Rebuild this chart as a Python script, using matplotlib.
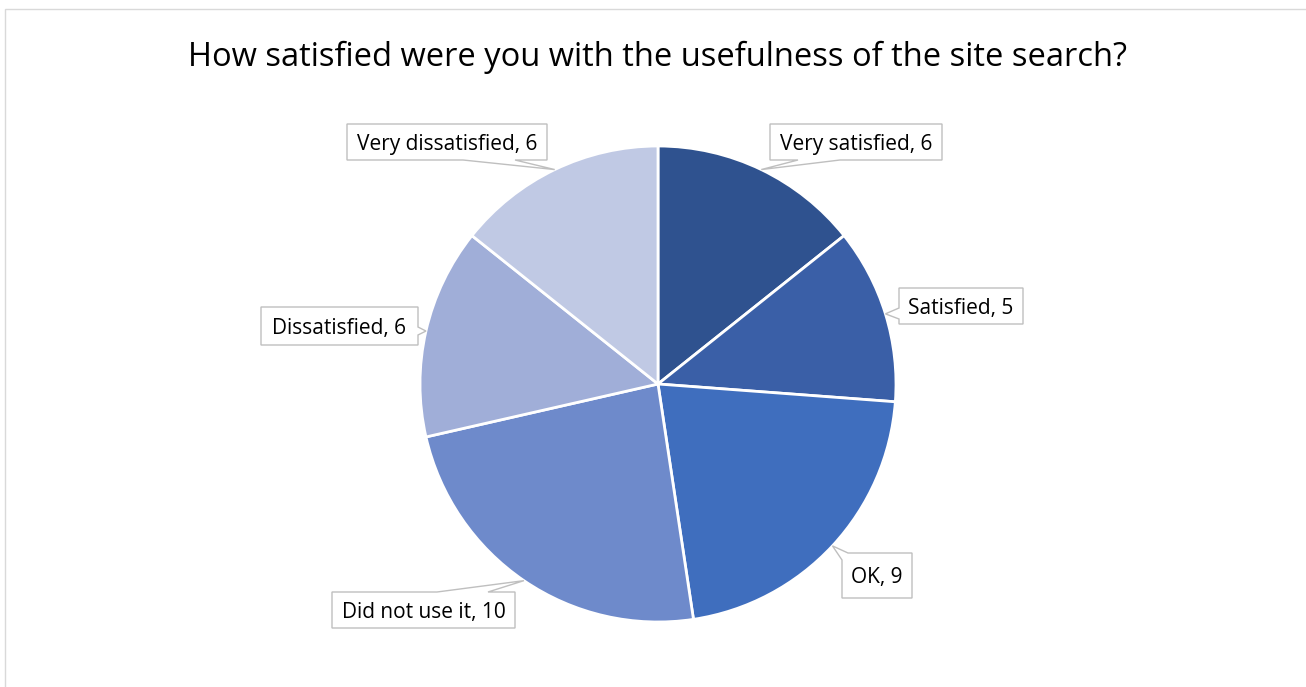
import numpy as np
import matplotlib
matplotlib.use("Agg")
import matplotlib.pyplot as plt
from matplotlib.patches import Polygon, Rectangle

# Survey responses
categories = ["Very satisfied", "Satisfied", "OK", "Did not use it",
              "Dissatisfied", "Very dissatisfied"]
counts = [6, 5, 9, 10, 6, 6]
title = "How satisfied were you with the usefulness of the site search?"

# Styling
colors = ["#2F528F", "#3A5FA7", "#3F6EBE", "#6E8ACB", "#A0AED8", "#C0C9E4"]
FONT = ["Open Sans", "DejaVu Sans"]

W, H = 1306, 687
CX, CY, R = 658, 384, 238          # pie centre / radius (pixels, y from top)

# Callout boxes: (left, top, right, bottom) in pixels (y from top),
# the edge the pointer leaves from, and the pointer base along that edge
callouts = [
    ((770, 124, 942, 160), "bottom", 798, 840),
    ((899, 288, 1023, 324), "left", 308, 319),
    ((842, 553, 912, 598), "corner", 7, 6),
    ((332, 592, 515, 628), "top", 437, 488),
    ((261, 307, 418, 345), "right", 327, 335),
    ((347, 124, 547, 160), "bottom", 463, 515),
]

fig = plt.figure(figsize=(W / 100, H / 100), dpi=100)
ax = fig.add_axes([0, 0, 1, 1])


def fy(y):
    """Convert a top-based pixel row to the axes' bottom-based y."""
    return H - y


wedges, _ = ax.pie(counts, colors=colors, startangle=90, counterclock=False,
                   radius=R, center=(CX, fy(CY)),
                   wedgeprops=dict(edgecolor="white", linewidth=2.0))
ax.set_xlim(0, W)
ax.set_ylim(0, H)
ax.set_aspect("equal")
ax.axis("off")

# Chart area frame (left and top edges visible)
ax.add_patch(Rectangle((4.5, -20), W + 40, fy(8.5) + 20, fill=False,
                       edgecolor="#D9D9D9", linewidth=1.0, zorder=0))

total = float(sum(counts))
cum = np.cumsum([0] + counts[:-1])
for cat, val, c0, (box, side, b0, b1) in zip(categories, counts, cum, callouts):
    frac = (c0 + val / 2.0) / total
    ang = np.deg2rad(90 - 360 * frac)
    tip = (CX + R * np.cos(ang), fy(CY - R * np.sin(ang)))
    l, t, r, b = box
    TL, TR, BR, BL = (l, fy(t)), (r, fy(t)), (r, fy(b)), (l, fy(b))
    if side == "top":
        pts = [TL, (b0, fy(t)), tip, (b1, fy(t)), TR, BR, BL]
    elif side == "right":
        pts = [TL, TR, (r, fy(b0)), tip, (r, fy(b1)), BR, BL]
    elif side == "bottom":
        pts = [TL, TR, BR, (b1, fy(b)), tip, (b0, fy(b)), BL]
    elif side == "left":
        pts = [TL, TR, BR, BL, (l, fy(b1)), tip, (l, fy(b0))]
    else:  # pointer leaving from the top-left corner
        pts = [(l, fy(t + b0)), tip, (l + b1, fy(t)), TR, BR, BL]
    ax.add_patch(Polygon(pts, closed=True, facecolor="white",
                         edgecolor="#BFBFBF", linewidth=1.0, zorder=5))
    ax.text((l + r) / 2, fy((t + b) / 2), f"{cat}, {val}", ha="center",
            va="center_baseline", fontsize=15, family=FONT, color="#000000",
            zorder=6)

ax.text(CX, fy(53), title, ha="center", va="center_baseline", fontsize=23.5,
        family=FONT, color="#000000")

fig.savefig("out.png", dpi=100, facecolor="white")
